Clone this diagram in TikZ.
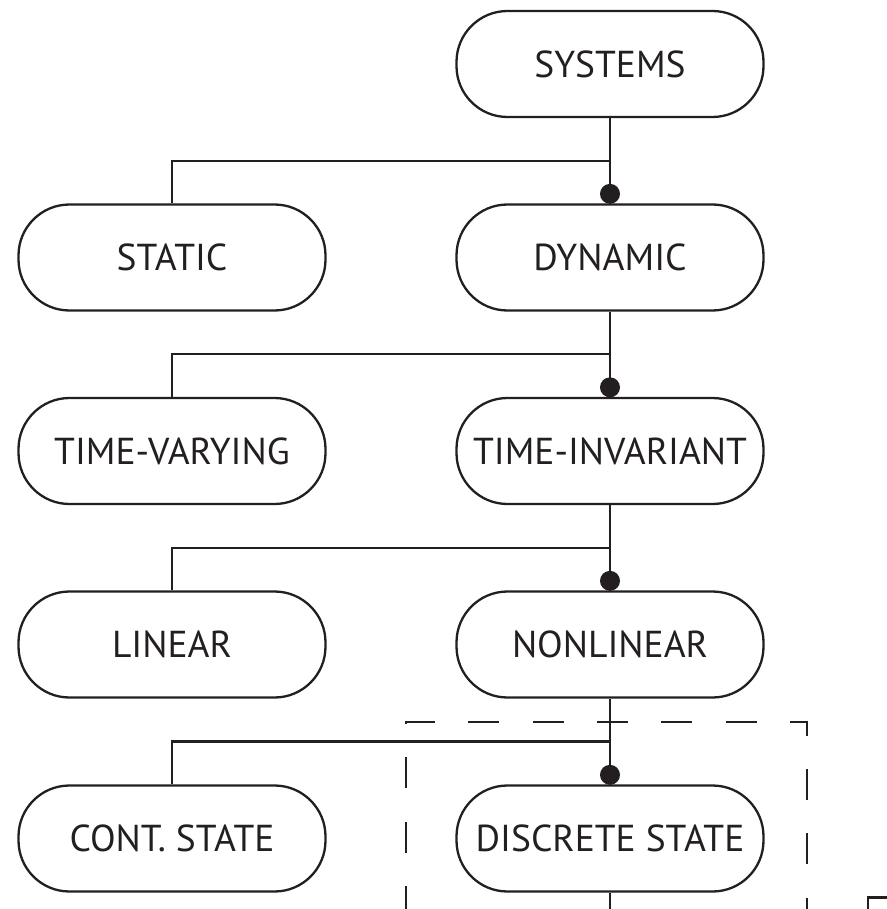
\documentclass[tikz,border=0pt]{standalone}
\usepackage{fontspec}
\setmainfont{PT Sans}
\usetikzlibrary{calc}
\definecolor{ink}{HTML}{231F20}
\begin{document}
\begin{tikzpicture}[x=1pt,y=-1pt,
  wire/.style={draw=ink, line width=2.3pt},
  sysbox/.style={draw=ink, line width=2.3pt, rounded corners=51pt,
    minimum width=307pt, minimum height=106pt, inner sep=0pt,
    font=\fontsize{37.5}{42}\selectfont, text=ink},
  joindot/.style={fill=ink, draw=none},
  frame/.style={draw=ink, line width=2.3pt, dash pattern=on 31pt off 33.3pt}]
  \useasboundingbox (0,0) rectangle (886,909);

  % tree of system classes
  \node[sysbox] (sys)  at (610,64)    {SYSTEMS};
  \node[sysbox] (sta)  at (172,257.5) {STATIC};
  \node[sysbox] (dyn)  at (610,257.5) {DYNAMIC};
  \node[sysbox] (tv)   at (172,451)   {TIME-VARYING};
  \node[sysbox] (ti)   at (610,451)   {TIME-INVARIANT};
  \node[sysbox] (lin)  at (172,644.5) {LINEAR};
  \node[sysbox] (nl)   at (610,644.5) {NONLINEAR};
  \node[sysbox] (cs)   at (172,838.5) {CONT. STATE};
  \node[sysbox] (ds)   at (610,838.5) {DISCRETE STATE};

  % branches: parent -> chosen child (dot), side branch to the other child
  \foreach \p/\a/\b in {sys/sta/dyn, dyn/tv/ti, ti/lin/nl, nl/cs/ds}{
    \coordinate (j-\b) at ($(\p.south)!0.5!(\b.north)$);
    \draw[wire] (\p.south) -- (\b.north);
    \draw[wire] (\a.north) |- (j-\b);
    \fill[joindot] ($(\b.north)+(0,-9.5)$) circle (10pt);
  }

  % continuation below the discrete-state box
  \coordinate (ds-out) at (610,912);
  \draw[wire] (ds.south) -- (ds-out);

  % dashed frame around the discrete-state branch
  \draw[frame] (406,916.9) -- (406,722) -- (807,722) -- (807,930);

  % corner of the next frame
  \draw[wire] (868,912) -- (868,897.5) -- (890,897.5);
\end{tikzpicture}
\end{document}
